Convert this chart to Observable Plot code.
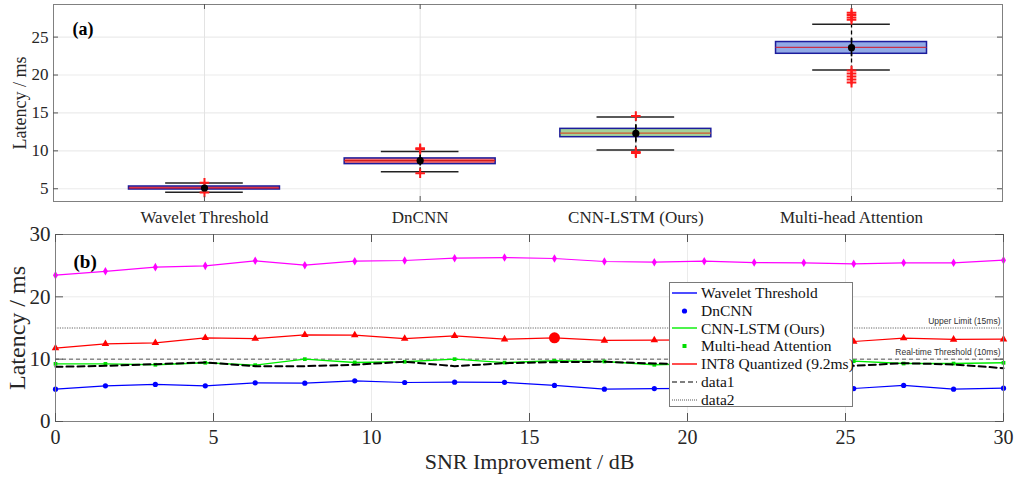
<!DOCTYPE html>
<html>
<head>
<meta charset="utf-8">
<script src="https://cdn.jsdelivr.net/npm/d3@7"></script>
<script src="https://cdn.jsdelivr.net/npm/@observablehq/plot@0.6"></script>
<style>
  html, body { margin: 0; padding: 0; background: #fff; }
  #wrap { position: relative; width: 1021px; height: 480px; overflow: hidden; background: #fff; }
  #wrap > svg { display: block; position: absolute; left: 0; overflow: visible; }
  #legend { position: absolute; left: 669px; top: 282px; width: 184px; height: 125px;
    border: 1px solid #7a7a7a; background: #fff; box-sizing: border-box;
    font-family: "Liberation Serif", serif; font-size: 15.5px; color: #111; padding-top: 1px; }
  #legend .row { height: 17.8px; display: flex; align-items: center; white-space: nowrap; }
  #legend svg { margin-left: 2px; margin-right: 3px; flex: none; }
</style>
</head>
<body>
<div id="wrap"></div>
<script>
// ---------- Panel (a): latency distribution per method ----------
const methods = ["Wavelet Threshold", "DnCNN", "CNN-LSTM (Ours)", "Multi-head Attention"];
const q1Values = [4.9, 8.25, 11.8, 22.8];
const medianValues = [5.1, 8.7, 12.35, 23.65];
const q3Values = [5.3, 9.0, 12.9, 24.35];
const whiskerLow = [4.55, 7.25, 10.1, 20.65];
const whiskerHigh = [5.75, 9.9, 14.45, 26.7];
const meanValues = [5.1, 8.7, 12.3, 23.6];
const stdValues = [0.3, 0.7, 1.1, 1.2];
const outlierValues = [
  [5.8, 4.5],
  [10.2, 10.35, 7.05],
  [14.6, 9.7, 9.85],
  [27.3, 27.6, 27.9, 28.2, 20.6, 20.2, 19.8, 19.4, 19.0]
];
const latencyTicksA = [5, 10, 15, 20, 25];

// ---------- Panel (b): latency vs SNR improvement ----------
const snrImprovement = [0, 1.58, 3.16, 4.74, 6.32, 7.89, 9.47, 11.05, 12.63, 14.21,
  15.79, 17.37, 18.95, 20.53, 22.11, 23.68, 25.26, 26.84, 28.42, 30];
const waveletLatency = [5.18, 5.72, 5.94, 5.72, 6.2, 6.15, 6.52, 6.26, 6.31, 6.28,
  5.78, 5.18, 5.29, 5.3, 5.45, 5.3, 5.29, 5.78, 5.18, 5.35];
const cnnLstmLatency = [9.25, 9.25, 9.1, 9.42, 9.04, 10.0, 9.47, 9.58, 10.0, 9.45,
  9.74, 9.63, 9.1, 9.3, 9.5, 9.6, 9.68, 9.3, 9.3, 9.42];
const int8Latency = [11.77, 12.46, 12.62, 13.42, 13.3, 13.9, 13.85, 13.3, 13.74, 13.2,
  13.42, 13.0, 13.05, 13.1, 13.0, 13.1, 12.83, 13.37, 13.16, 13.2];
const attentionLatency = [23.47, 24.1, 24.76, 24.97, 25.78, 25.08, 25.72, 25.83, 26.2, 26.3,
  26.15, 25.67, 25.56, 25.72, 25.5, 25.46, 25.3, 25.46, 25.46, 25.88];
const data1Latency = [8.77, 8.93, 9.2, 9.47, 8.88, 8.88, 9.1, 9.58, 8.88, 9.36,
  9.52, 9.58, 9.3, 9.2, 9.4, 9.3, 8.93, 9.36, 9.15, 8.56];
const highlightSnr = [15.79];
const highlightLatency = [13.42];
const realTimeThreshold = 10;
const upperLimit = 15;
const snrTicks = [0, 5, 10, 15, 20, 25, 30];
const latencyTicksB = [0, 10, 20, 30];

const legendLabels = ["Wavelet Threshold", "DnCNN", "CNN-LSTM (Ours)", "Multi-head Attention",
  "INT8 Quantized (9.2ms)", "data1", "data2"];

// ---------- styles ----------
const FONT = "Liberation Serif, Times New Roman, serif";
const AXIS = "#808080";
const TXT = "#262626";
const GRID = "#ebebeb";
const boxFill = ["#ef5b5b", "#f26a6a", "#a3d39a", "#91aae6"];
const boxEdge = "#1c1c9c";
const medianColor = ["#c8102e", "#d41c1c", "#d2552e", "#c8304a"];

const boxes = methods.map((m, i) => ({
  pos: i + 1, q1: q1Values[i], med: medianValues[i], q3: q3Values[i],
  lo: whiskerLow[i], hi: whiskerHigh[i], mean: meanValues[i], sd: stdValues[i], i
}));
const outliers = outlierValues.flatMap((arr, i) => arr.map(v => ({pos: i + 1, v})));

function innerTicks(xd, yd, xt, yt, w, h, len) {
  const kx = len * (xd[1] - xd[0]) / w, ky = len * (yd[1] - yd[0]) / h;
  const st = {stroke: "#555", strokeWidth: 1};
  return [
    Plot.ruleY(yt, {y: d => d, x1: xd[0], x2: xd[0] + kx, ...st}),
    Plot.ruleY(yt, {y: d => d, x1: xd[1] - kx, x2: xd[1], ...st}),
    Plot.ruleX(xt, {x: d => d, y1: yd[0], y2: yd[0] + ky, ...st}),
    Plot.ruleX(xt, {x: d => d, y1: yd[1] - ky, y2: yd[1], ...st})
  ];
}

// ----- panel a -----
const xdA = [0.3, 4.7], ydA = [3.32, 29.3];
const WA = 1021, HA = 228, mlA = 53, mrA = 19, mtA = 4, mbA = 27;
const plotA = Plot.plot({
  width: WA, height: HA, marginLeft: mlA, marginRight: mrA, marginTop: mtA, marginBottom: mbA,
  style: {fontFamily: FONT, fontSize: "17px", color: TXT, background: "transparent", overflow: "visible"},
  x: {domain: xdA, axis: null},
  y: {domain: ydA, axis: null},
  marks: [
    Plot.ruleY(latencyTicksA, {y: d => d, stroke: GRID, strokeWidth: 1.2}),
    Plot.ruleX([1, 2, 3, 4], {x: d => d, stroke: "#e3e3e3", strokeWidth: 1}),
    Plot.ruleX(boxes, {x: "pos", y1: "lo", y2: "q1", stroke: "#000", strokeWidth: 1.3, strokeDasharray: "4,3"}),
    Plot.ruleX(boxes, {x: "pos", y1: "q3", y2: "hi", stroke: "#000", strokeWidth: 1.3, strokeDasharray: "4,3"}),
    Plot.rect(boxes, {x1: d => d.pos - 0.35, x2: d => d.pos + 0.35, y1: "q1", y2: "q3",
      fill: d => boxFill[d.i], stroke: boxEdge, strokeWidth: 1.5}),
    Plot.ruleY(boxes, {y: "med", x1: d => d.pos - 0.35, x2: d => d.pos + 0.35,
      stroke: d => medianColor[d.i], strokeWidth: 1.2}),
    Plot.ruleY(boxes, {y: "lo", x1: d => d.pos - 0.18, x2: d => d.pos + 0.18, stroke: "#222", strokeWidth: 1.5}),
    Plot.ruleY(boxes, {y: "hi", x1: d => d.pos - 0.18, x2: d => d.pos + 0.18, stroke: "#222", strokeWidth: 1.5}),
    Plot.ruleX(boxes, {x: "pos", y1: d => d.mean - d.sd, y2: d => d.mean + d.sd, stroke: "#000", strokeWidth: 1.6}),
    Plot.dot(outliers, {x: "pos", y: "v", symbol: "plus", r: 3.2, stroke: "#ff1a1a", strokeWidth: 2}),
    Plot.dot(boxes, {x: "pos", y: "mean", r: 3.6, fill: "#000"}),
    Plot.frame({stroke: AXIS, strokeWidth: 1}),
    ...innerTicks(xdA, ydA, [1, 2, 3, 4], latencyTicksA, WA - mlA - mrA, HA - mtA - mbA, 5),
    Plot.axisY(latencyTicksA, {tickSize: 0, tickPadding: 5, fill: TXT, fontSize: 17, label: null}),
    Plot.axisX([1, 2, 3, 4], {tickSize: 0, tickPadding: 9, tickFormat: d => methods[d - 1], fill: TXT, fontSize: 17, label: null}),
    Plot.text(["Latency / ms"], {frameAnchor: "left", textAnchor: "middle", rotate: -90, dx: -33, fill: TXT, fontSize: 18}),
    Plot.text(["(a)"], {frameAnchor: "top-left", dx: 19, dy: 18, textAnchor: "start", fontWeight: "bold", fontSize: 18, fill: "#000"})
  ]
});

// ----- panel b -----
const series = snrImprovement.map((x, i) => ({
  x, wave: waveletLatency[i], cnn: cnnLstmLatency[i], int8: int8Latency[i],
  att: attentionLatency[i], d1: data1Latency[i]
}));
const highlight = highlightSnr.map((x, i) => ({x, y: highlightLatency[i]}));
const xdB = [0, 30], ydB = [0, 30];
const topB = 218;
const WB = 1021, HB = 262, mlB = 55, mrB = 18, mtB = 16, mbB = 59;
const plotB = Plot.plot({
  width: WB, height: HB, marginLeft: mlB, marginRight: mrB, marginTop: mtB, marginBottom: mbB,
  style: {fontFamily: FONT, fontSize: "20px", color: TXT, background: "transparent", overflow: "visible"},
  x: {domain: xdB, axis: null},
  y: {domain: ydB, axis: null},
  marks: [
    Plot.ruleY(latencyTicksB, {y: d => d, stroke: GRID}),
    Plot.ruleX(snrTicks, {x: d => d, stroke: GRID}),
    Plot.ruleY([upperLimit], {y: d => d, stroke: "#666", strokeWidth: 1, strokeDasharray: "1.2,1.2"}),
    Plot.ruleY([realTimeThreshold], {y: d => d, stroke: "#555", strokeWidth: 1, strokeDasharray: "4,3"}),
    Plot.text(["Upper Limit (15ms)"], {x: 30, y: upperLimit, dx: -3, dy: -7, textAnchor: "end",
      fontFamily: "Liberation Sans, Arial, sans-serif", fontSize: 8.5, fill: "#333"}),
    Plot.text(["Real-time Threshold (10ms)"], {x: 30, y: realTimeThreshold, dx: -3, dy: -7, textAnchor: "end",
      fontFamily: "Liberation Sans, Arial, sans-serif", fontSize: 8.5, fill: "#333"}),
    Plot.line(series, {x: "x", y: "att", stroke: "#ff00ff", strokeWidth: 1.2}),
    Plot.dot(series, {x: "x", y: "att", symbol: "diamond", r: 2.6, fill: "#ff00ff"}),
    Plot.line(series, {x: "x", y: "int8", stroke: "#ff0000", strokeWidth: 1.2}),
    Plot.dot(series, {x: "x", y: "int8", symbol: "triangle", r: 2.8, fill: "#ff0000"}),
    Plot.dot(highlight, {x: "x", y: "y", r: 5.5, fill: "#ff0000"}),
    Plot.line(series, {x: "x", y: "wave", stroke: "#0000ff", strokeWidth: 1.2}),
    Plot.dot(series, {x: "x", y: "wave", r: 2.6, fill: "#0000ff"}),
    Plot.line(series, {x: "x", y: "cnn", stroke: "#00ee00", strokeWidth: 1.4}),
    Plot.dot(series, {x: "x", y: "cnn", symbol: "square", r: 2.1, fill: "#00dd00"}),
    Plot.line(series, {x: "x", y: "d1", stroke: "#000", strokeWidth: 2, strokeDasharray: "7,4"}),
    Plot.frame({stroke: AXIS, strokeWidth: 1}),
    ...innerTicks(xdB, ydB, snrTicks, latencyTicksB, WB - mlB - mrB, HB - mtB - mbB, 8),
    Plot.axisY(latencyTicksB, {tickSize: 0, tickPadding: 5, fill: TXT, fontSize: 21, label: null}),
    Plot.axisX(snrTicks, {tickSize: 0, tickPadding: 8, fill: TXT, fontSize: 20, label: null}),
    Plot.text(["SNR Improvement / dB"], {frameAnchor: "bottom", dy: 47, fill: TXT, fontSize: 22}),
    Plot.text(["Latency / ms"], {frameAnchor: "left", textAnchor: "middle", rotate: -90, dx: -38, fill: TXT, fontSize: 24}),
    Plot.text(["(b)"], {frameAnchor: "top-left", dx: 18, dy: 20, textAnchor: "start", fontWeight: "bold", fontSize: 19, fill: "#000"})
  ]
});

const wrap = document.getElementById("wrap");
plotA.style.top = "0px";
plotB.style.top = topB + "px";
wrap.appendChild(plotA);
wrap.appendChild(plotB);

// ----- legend (drawn inside panel b) -----
const legendSamples = [
  `<line x1="0" y1="6" x2="25" y2="6" stroke="#0000ff" stroke-width="1.4"/>`,
  `<circle cx="12.5" cy="6" r="2.6" fill="#0000ff"/>`,
  `<line x1="0" y1="6" x2="25" y2="6" stroke="#00ee00" stroke-width="1.4"/>`,
  `<rect x="10.5" y="4" width="4" height="4" fill="#00dd00"/>`,
  `<line x1="0" y1="6" x2="25" y2="6" stroke="#ff0000" stroke-width="1.4"/>`,
  `<line x1="0" y1="6" x2="25" y2="6" stroke="#000" stroke-width="1.2" stroke-dasharray="5,3"/>`,
  `<line x1="0" y1="6" x2="25" y2="6" stroke="#555" stroke-width="1" stroke-dasharray="1,1"/>`
];
const legend = document.createElement("div");
legend.id = "legend";
legend.innerHTML = legendLabels.map((t, i) =>
  `<div class="row"><svg width="26" height="12">${legendSamples[i]}</svg><span>${t}</span></div>`).join("");
wrap.appendChild(legend);
</script>
</body>
</html>
